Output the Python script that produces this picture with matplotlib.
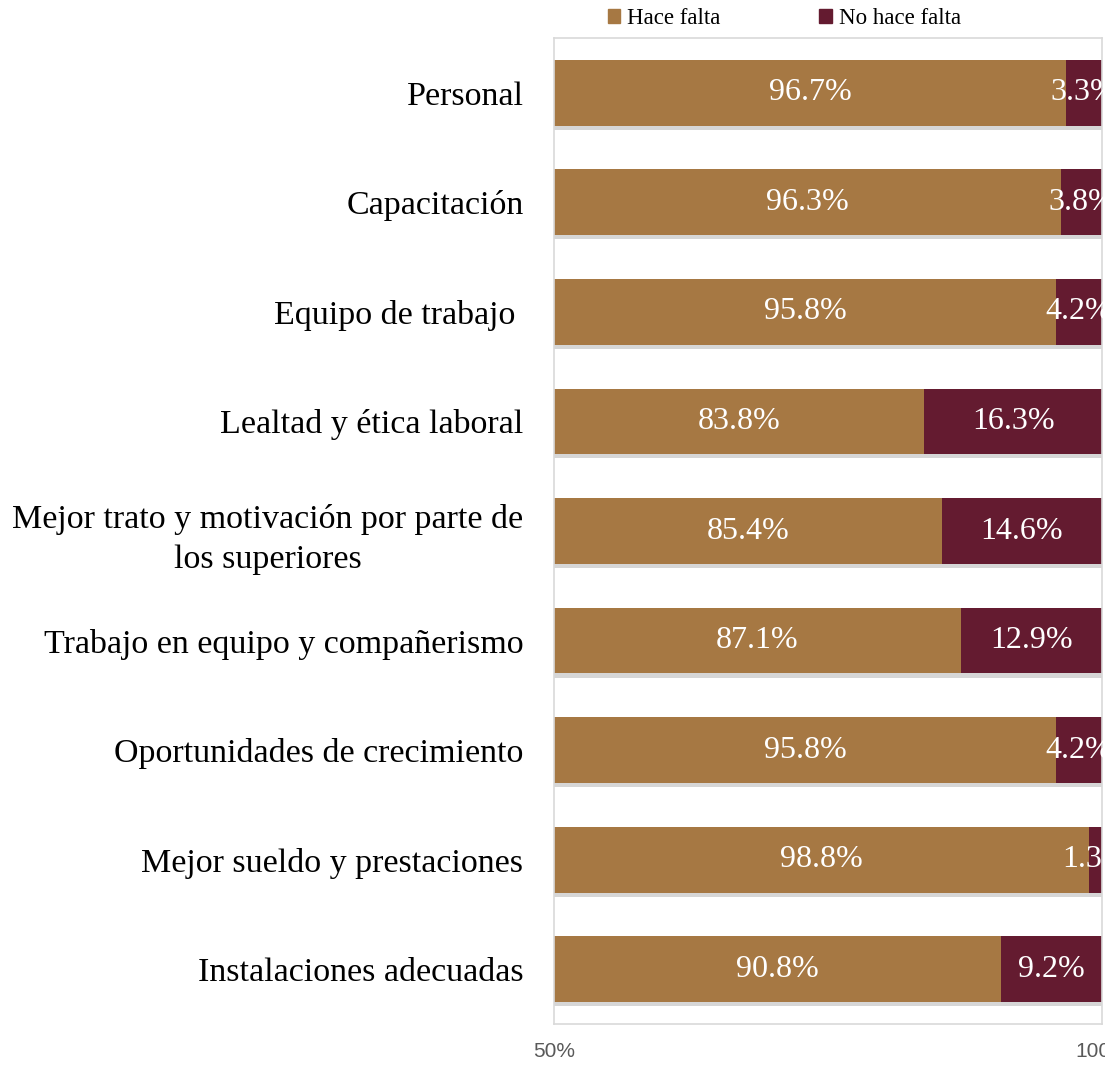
import numpy as np
import matplotlib.pyplot as plt
import matplotlib.patheffects as pe
from matplotlib.patches import Patch

categorias = ['Personal', 'Capacitación', 'Equipo de trabajo ', 'Lealtad y ética laboral',
              'Mejor trato y motivación por parte de\nlos superiores',
              'Trabajo en equipo y compañerismo', 'Oportunidades de crecimiento',
              'Mejor sueldo y prestaciones', 'Instalaciones adecuadas']
hace_falta = [96.7, 96.3, 95.8, 83.8, 85.4, 87.1, 95.8, 98.8, 90.8]
no_hace_falta = [3.3, 3.8, 4.2, 16.3, 14.6, 12.9, 4.2, 1.3, 9.2]

color_hace = '#A67843'
color_no = '#641B30'
serif = ['Liberation Serif', 'DejaVu Serif']

fig = plt.figure(figsize=(11.05, 10.68), dpi=100)
ax = fig.add_axes([0.5014, 0.0412, 0.4959, 0.9232])

y = np.arange(len(categorias))
sombra = [pe.SimplePatchShadow(offset=(1.5, -3), shadow_rgbFace='#8c8c8c', alpha=0.35), pe.Normal()]
ax.barh(y, hace_falta, height=0.6, color=color_hace, path_effects=sombra)
ax.barh(y, no_hace_falta, left=hace_falta, height=0.6, color=color_no, path_effects=sombra)

xmin, xmax = 50, 100
ax.set_xlim(xmin, xmax)
ax.set_ylim(len(categorias) - 0.5, -0.5)

# etiquetas centradas en la parte visible de cada segmento
for i in range(len(categorias)):
    h = hace_falta[i]
    n = no_hace_falta[i]
    ax.text((xmin + h) / 2, i, f'{h:.1f}%', color='white', ha='center', va='center',
            fontsize=23, family=serif)
    ax.text(h + n / 2, i, f'{n:.1f}%', color='white', ha='center', va='center',
            fontsize=23, family=serif, clip_on=False)

ax.set_yticks(y)
ax.set_yticklabels(categorias, fontsize=24.5, family=serif, multialignment='center',
                   linespacing=1.4)
ax.set_xticks([50, 100])
ax.set_xticklabels(['50%', '100%'], fontsize=15, color='#595959', family='Liberation Sans')
ax.tick_params(axis='both', length=0)
ax.tick_params(axis='x', pad=13)
ax.tick_params(axis='y', pad=22)

for s in ax.spines.values():
    s.set_color('#D9D9D9')
    s.set_linewidth(1.2)

handles = [Patch(color=color_hace, label='Hace falta'), Patch(color=color_no, label='No hace falta')]
ax.legend(handles=handles, loc='lower center', bbox_to_anchor=(0.42, 0.995), ncol=2, frameon=False,
          prop={'family': serif, 'size': 16.5}, handlelength=0.55, handleheight=0.55,
          handletextpad=0.3, columnspacing=4.3, borderpad=0.1)

fig.savefig('out.png', dpi=100)
